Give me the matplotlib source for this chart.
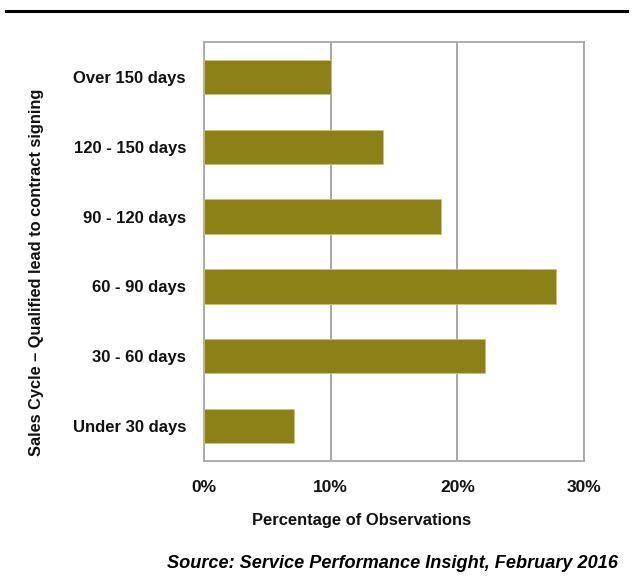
import matplotlib
matplotlib.use("Agg")
import matplotlib.pyplot as plt
from matplotlib.ticker import FuncFormatter
from matplotlib import font_manager

categories = ["Under 30 days", "30 - 60 days", "60 - 90 days",
              "90 - 120 days", "120 - 150 days", "Over 150 days"]
values = [7.1, 22.2, 27.8, 18.7, 14.1, 10.0]
xticks = [0, 10, 20, 30]

names = {f.name for f in font_manager.fontManager.ttflist}
family = "Liberation Sans Narrow" if "Liberation Sans Narrow" in names else "Liberation Sans"
plt.rcParams["font.family"] = [family, "DejaVu Sans"]

W, H = 632, 586
fig = plt.figure(figsize=(W / 100, H / 100), dpi=100)
ax = fig.add_axes([204 / W, 1 - 461 / H, (584 - 204) / W, (461 - 42) / H])

bar_color = "#8b8117"
ax.barh(range(len(categories)), values, height=0.49, color=bar_color,
        edgecolor="#c9c27a", linewidth=0.6, zorder=3)

ax.set_xlim(0, 30)
ax.set_ylim(-0.5, len(categories) - 0.5)
ax.set_xticks(xticks)
ax.xaxis.set_major_formatter(FuncFormatter(lambda v, p: f"{v:.0f}%"))
ax.set_yticks(range(len(categories)))
ax.set_yticklabels(categories)
ax.grid(axis="x", color="#a0a0a0", linewidth=1.3, zorder=1)
for s in ax.spines.values():
    s.set_color("#a8a8a8")
    s.set_linewidth(1.3)
ax.tick_params(length=0)
ax.tick_params(axis="x", pad=14, labelsize=12.5)
ax.tick_params(axis="y", pad=13, labelsize=12)
for t in ax.get_xticklabels() + ax.get_yticklabels():
    t.set_fontweight("bold")
    t.set_color("#111111")

fig.text(362 / W, 1 - 521 / H, "Percentage of Observations", ha="center",
         va="center", fontsize=11.9, fontweight="bold", color="#111111")
fig.text(37 / W, 1 - 272 / H, "Sales Cycle \u2013 Qualified lead to contract signing",
         rotation=90, ha="center", va="center", fontsize=11.8,
         fontweight="bold", color="#111111")
fig.text(618 / W, 1 - 563 / H, "Source: Service Performance Insight, February 2016",
         ha="right", va="center", fontsize=13.1, fontweight="bold",
         style="italic", color="#000000")

# heading rule across the top
fig.add_artist(plt.Line2D([6 / W, 627 / W], [1 - 11 / H, 1 - 11 / H],
                          color="black", linewidth=2.2))

fig.savefig("out.png", dpi=100, facecolor="white")
